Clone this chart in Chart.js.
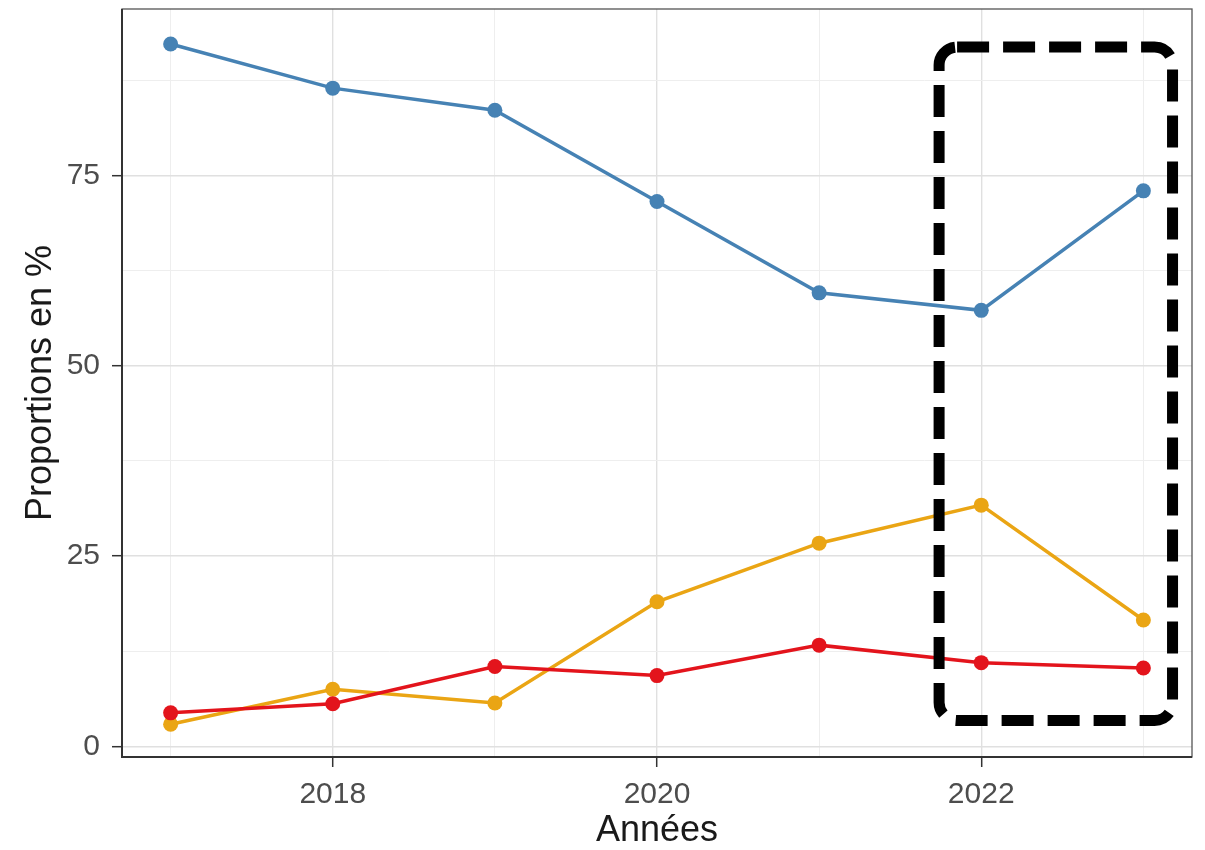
<!DOCTYPE html>
<html>
<head>
<meta charset="utf-8">
<script src="https://cdn.jsdelivr.net/npm/chart.js@4/dist/chart.umd.min.js"></script>
<style>
  body { margin: 0; background: #fff; }
</style>
</head>
<body>
<canvas id="myChart" width="1205" height="850"></canvas>
<script>
// data
const years = [2017, 2018, 2019, 2020, 2021, 2022, 2023];
const blueValues = [92.3, 86.5, 83.6, 71.6, 59.6, 57.3, 73.0];
const orangeValues = [2.9, 7.5, 5.7, 19.0, 26.7, 31.7, 16.6];
const redValues = [4.4, 5.6, 10.5, 9.3, 13.3, 11.0, 10.3];

const xTicks = [2017, 2018, 2019, 2020, 2021, 2022, 2023];
const xLabels = [2018, 2020, 2022];
const yTicks = [0, 12.5, 25, 37.5, 50, 62.5, 75, 87.5];
const yLabels = [0, 25, 50, 75];

// highlight box around 2022-2023 (data units)
const boxYears = [2021.74, 2023.18];
const boxValues = [3.4, 91.9];

function toPoints(vals) {
    return years.map((y, i) => ({ x: y, y: vals[i] }));
}

function isMajor(list, v) {
    return list.indexOf(v) !== -1;
}

// panel border like theme_bw
const panelBorder = {
    id: 'panelBorder',
    afterDraw(chart) {
        const a = chart.chartArea;
        const ctx = chart.ctx;
        ctx.save();
        ctx.strokeStyle = '#555555';
        ctx.lineWidth = 1.3;
        ctx.strokeRect(a.left, a.top, a.right - a.left, a.bottom - a.top);
        ctx.strokeStyle = '#333333';
        ctx.lineWidth = 2;
        ctx.beginPath();
        ctx.moveTo(a.left, a.top);
        ctx.lineTo(a.left, a.bottom);
        ctx.lineTo(a.right, a.bottom);
        ctx.stroke();
        ctx.restore();
    }
};

const dashedBox = {
    id: 'dashedBox',
    afterDatasetsDraw(chart) {
        const xs = chart.scales.x, ys = chart.scales.y;
        const l = xs.getPixelForValue(boxYears[0]);
        const r = xs.getPixelForValue(boxYears[1]);
        const t = ys.getPixelForValue(boxValues[1]);
        const b = ys.getPixelForValue(boxValues[0]);
        const ctx = chart.ctx;
        ctx.save();
        ctx.strokeStyle = '#000000';
        ctx.lineWidth = 11;
        ctx.setLineDash([32, 14]);
        ctx.beginPath();
        ctx.roundRect(l, t, r - l, b - t, 18);
        ctx.stroke();
        ctx.restore();
    }
};

const ctx = document.getElementById('myChart').getContext('2d');

new Chart(ctx, {
    type: 'line',
    data: {
        datasets: [
            {
                data: toPoints(blueValues),
                borderColor: '#4682b4',
                backgroundColor: '#4682b4',
                order: 1
            },
            {
                data: toPoints(redValues),
                borderColor: '#e3141c',
                backgroundColor: '#e3141c',
                order: 2
            },
            {
                data: toPoints(orangeValues),
                borderColor: '#eaa514',
                backgroundColor: '#eaa514',
                order: 3
            }
        ]
    },
    options: {
        responsive: false,
        animation: false,
        layout: { padding: { left: 0, top: 9, right: 13, bottom: 0 } },
        elements: {
            line: { borderWidth: 3.5, tension: 0 },
            point: { radius: 7.5, borderWidth: 0, hoverRadius: 7.5 }
        },
        plugins: {
            legend: { display: false },
            tooltip: { enabled: false }
        },
        scales: {
            x: {
                type: 'linear',
                min: 2016.7,
                max: 2023.3,
                afterBuildTicks: (scale) => { scale.ticks = xTicks.map(v => ({ value: v })); },
                afterFit: (scale) => {
                    scale.height = 93;
                    scale.paddingLeft = 0;
                    scale.paddingRight = 0;
                },
                border: { display: false },
                grid: {
                    color: (c) => isMajor(xLabels, c.tick && c.tick.value) ? '#e0e0e0' : '#eeeeee',
                    lineWidth: (c) => isMajor(xLabels, c.tick && c.tick.value) ? 1.4 : 1,
                    tickLength: 10,
                    tickColor: (c) => isMajor(xLabels, c.tick && c.tick.value) ? '#333333' : 'rgba(0,0,0,0)',
                    tickWidth: 1.5
                },
                ticks: {
                    padding: 10,
                    color: '#4d4d4d',
                    font: { family: 'Liberation Sans', size: 30 },
                    maxRotation: 0,
                    autoSkip: false,
                    callback: (v) => isMajor(xLabels, v) ? String(v) : ''
                },
                title: {
                    display: true,
                    text: 'Années',
                    color: '#1a1a1a',
                    font: { family: 'Liberation Sans', size: 36, lineHeight: 1 },
                    padding: { top: 0, bottom: 1 }
                }
            },
            y: {
                type: 'linear',
                min: -1.4,
                max: 96.9,
                afterBuildTicks: (scale) => { scale.ticks = yTicks.map(v => ({ value: v })); },
                afterFit: (scale) => {
                    scale.width = 122;
                    scale.paddingTop = 0;
                    scale.paddingBottom = 0;
                },
                border: { display: false },
                grid: {
                    color: (c) => isMajor(yLabels, c.tick && c.tick.value) ? '#e0e0e0' : '#eeeeee',
                    lineWidth: (c) => isMajor(yLabels, c.tick && c.tick.value) ? 1.4 : 1,
                    tickLength: 10,
                    tickColor: (c) => isMajor(yLabels, c.tick && c.tick.value) ? '#333333' : 'rgba(0,0,0,0)',
                    tickWidth: 1.5
                },
                ticks: {
                    padding: 12,
                    color: '#4d4d4d',
                    font: { family: 'Liberation Sans', size: 30 },
                    autoSkip: false,
                    callback: (v) => isMajor(yLabels, v) ? String(v) : ''
                },
                title: {
                    display: true,
                    text: 'Proportions en %',
                    color: '#1a1a1a',
                    font: { family: 'Liberation Sans', size: 36, lineHeight: 1 },
                    padding: { top: 23, bottom: 0 }
                }
            }
        }
    },
    plugins: [panelBorder, dashedBox]
});
</script>
</body>
</html>
